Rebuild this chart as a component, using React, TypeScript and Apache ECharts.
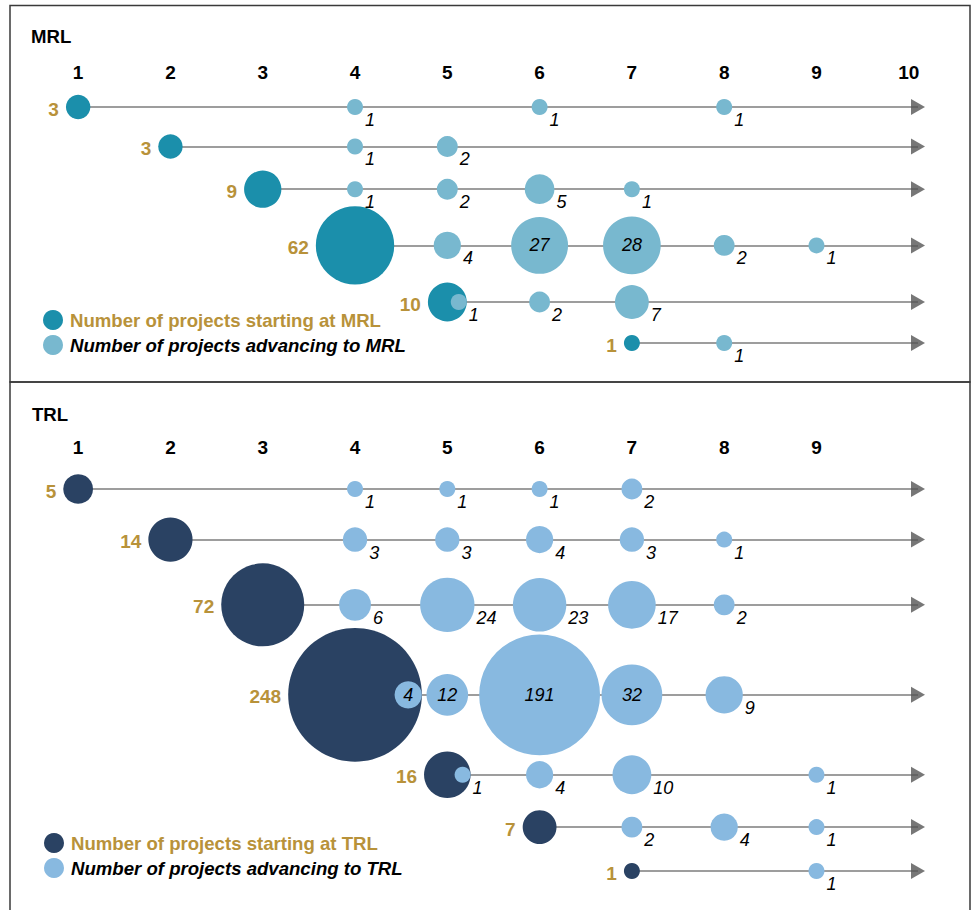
import React, { useEffect, useRef } from "react";
import * as echarts from "echarts";

// ---------------- data ----------------
const MRL_TICKS = [1, 2, 3, 4, 5, 6, 7, 8, 9, 10];
const TRL_TICKS = [1, 2, 3, 4, 5, 6, 7, 8, 9];

const MRL_START_LEVEL = [1, 2, 3, 4, 5, 7];
const MRL_START_COUNT = [3, 3, 9, 62, 10, 1];
// [row index, level advanced to, number of projects]
const MRL_ADVANCING: [number, number, number][] = [
  [0, 4, 1], [0, 6, 1], [0, 8, 1],
  [1, 4, 1], [1, 5, 2],
  [2, 4, 1], [2, 5, 2], [2, 6, 5], [2, 7, 1],
  [3, 5, 4], [3, 6, 27], [3, 7, 28], [3, 8, 2], [3, 9, 1],
  [4, 5, 1], [4, 6, 2], [4, 7, 7],
  [5, 8, 1],
];

const TRL_START_LEVEL = [1, 2, 3, 4, 5, 6, 7];
const TRL_START_COUNT = [5, 14, 72, 248, 16, 7, 1];
const TRL_ADVANCING: [number, number, number][] = [
  [0, 4, 1], [0, 5, 1], [0, 6, 1], [0, 7, 2],
  [1, 4, 3], [1, 5, 3], [1, 6, 4], [1, 7, 3], [1, 8, 1],
  [2, 4, 6], [2, 5, 24], [2, 6, 23], [2, 7, 17], [2, 8, 2],
  [3, 4, 4], [3, 5, 12], [3, 6, 191], [3, 7, 32], [3, 8, 9],
  [4, 5, 1], [4, 6, 4], [4, 7, 10], [4, 9, 1],
  [5, 7, 2], [5, 8, 4], [5, 9, 1],
  [6, 9, 1],
];

// bubbles whose number is written inside ("row-level")
const MRL_INSIDE_LABELS = ["3-6", "3-7"];
const TRL_INSIDE_LABELS = ["3-4", "3-5", "3-6", "3-7"];

// ---------------- style / layout ----------------
const FONT = "'Liberation Sans', Arial, Helvetica, sans-serif";
const GOLD = "#B8923A";
const X_MIN = 0.5;
const X_MAX = 10.1;

const bubble = (v: number) => 16 * Math.pow(v, 0.385);

function rowPositions(startCount: number[], adv: [number, number, number][]) {
  const maxD = startCount.map((c, i) =>
    Math.max(bubble(c), ...adv.filter((a) => a[0] === i).map((a) => bubble(a[2])))
  );
  const ys = [0];
  for (let i = 1; i < startCount.length; i++) {
    ys.push(ys[i - 1] + 30 + 0.55 * ((maxD[i - 1] + maxD[i]) / 2));
  }
  return ys;
}

function panelSeries(
  idx: number,
  tag: string,
  startLevel: number[],
  startCount: number[],
  adv: [number, number, number][],
  inside: string[],
  startColor: string,
  advColor: string
) {
  const ys = rowPositions(startCount, adv);
  const series: any[] = [
    {
      type: "lines",
      coordinateSystem: "cartesian2d",
      xAxisIndex: idx,
      yAxisIndex: idx,
      silent: true,
      z: 1,
      symbol: "none",
      lineStyle: { color: "#9d9d9d", width: 2, opacity: 1 },
      data: ys.map((y, i) => ({ coords: [[startLevel[i], y], [X_MAX, y]] })),
    },
    {
      type: "scatter",
      xAxisIndex: idx,
      yAxisIndex: idx,
      silent: true,
      clip: false,
      z: 2,
      symbol: "triangle",
      symbolRotate: -90,
      symbolSize: [16, 14],
      itemStyle: { color: "#555555" },
      data: ys.map((y) => [X_MAX, y]),
    },
    {
      name: `Number of projects starting at ${tag}`,
      type: "scatter",
      xAxisIndex: idx,
      yAxisIndex: idx,
      clip: false,
      z: 3,
      symbolSize: (val: number[]) => bubble(val[2]),
      itemStyle: { color: startColor, opacity: 1 },
      label: {
        show: true,
        position: "left",
        distance: 7,
        offset: [0, 2],
        formatter: (p: any) => String(p.value[2]),
        color: GOLD,
        fontSize: 19,
        fontWeight: "bold",
        fontFamily: FONT,
      },
      data: ys.map((y, i) => [startLevel[i], y, startCount[i]]),
    },
    {
      name: `Number of projects advancing to ${tag}`,
      type: "scatter",
      xAxisIndex: idx,
      yAxisIndex: idx,
      clip: false,
      z: 4,
      symbolSize: (val: number[]) => bubble(val[2]),
      itemStyle: { color: advColor, opacity: 1 },
      label: {
        show: true,
        position: "right",
        distance: 2,
        offset: [0, 13],
        formatter: (p: any) => String(p.value[2]),
        color: "#000",
        fontSize: 18,
        fontStyle: "italic",
        fontFamily: FONT,
      },
      data: adv.map(([r, lvl, n]) => {
        const same = lvl === startLevel[r];
        const item: any = {
          value: [lvl, ys[r], n],
          symbolOffset: same ? [(bubble(startCount[r]) - bubble(n)) / 2, 0] : [0, 0],
        };
        if (inside.includes(`${r}-${lvl}`)) {
          item.label = { position: "inside", offset: [0, 0], distance: 0 };
        }
        return item;
      }),
    },
  ];
  return { series, maxY: ys[ys.length - 1] };
}

function xAxis(idx: number, ticks: number[], margin: number) {
  return {
    gridIndex: idx,
    type: "value",
    position: "top",
    min: X_MIN,
    max: X_MAX,
    axisLine: { show: false },
    axisTick: { show: false },
    splitLine: { show: false },
    axisLabel: {
      customValues: ticks,
      margin,
      color: "#000",
      fontSize: 19,
      fontWeight: "bold",
      fontFamily: FONT,
    },
  };
}

function legend(tag: string, left: number, top: number) {
  return {
    left,
    top,
    orient: "vertical",
    padding: 0,
    itemWidth: 20,
    itemHeight: 20,
    itemGap: 5,
    icon: "circle",
    selectedMode: false,
    data: [
      {
        name: `Number of projects starting at ${tag}`,
        textStyle: { color: GOLD, fontWeight: "bold", fontSize: 18.6, fontFamily: FONT, padding: [0, 0, 0, 2] },
      },
      {
        name: `Number of projects advancing to ${tag}`,
        textStyle: {
          color: "#000",
          fontWeight: "bold",
          fontStyle: "italic",
          fontSize: 18.6,
          fontFamily: FONT,
          padding: [0, 0, 0, 2],
        },
      },
    ],
  };
}

export default function App() {
  const ref = useRef<HTMLDivElement>(null);

  useEffect(() => {
    if (!ref.current) return;
    const chart = echarts.init(ref.current, undefined, { renderer: "svg" });

    const mrl = panelSeries(0, "MRL", MRL_START_LEVEL, MRL_START_COUNT, MRL_ADVANCING,
      MRL_INSIDE_LABELS, "#1B8FAB", "#78B8CF");
    const trl = panelSeries(1, "TRL", TRL_START_LEVEL, TRL_START_COUNT, TRL_ADVANCING,
      TRL_INSIDE_LABELS, "#2A4263", "#88B9E0");

    chart.setOption({
      animation: false,
      backgroundColor: "#ffffff",
      title: [
        {
          text: "MRL",
          left: 31,
          top: 27,
          padding: 0,
          textStyle: { fontSize: 18.6, fontWeight: "bold", color: "#000", fontFamily: FONT, lineHeight: 18 },
        },
        {
          text: "TRL",
          left: 32,
          top: 405,
          padding: 0,
          textStyle: { fontSize: 18.6, fontWeight: "bold", color: "#000", fontFamily: FONT, lineHeight: 18 },
        },
      ],
      legend: [legend("MRL", 43, 310), legend("TRL", 44, 833)],
      grid: [
        { left: 32, top: 107, width: 886, height: 236 },
        { left: 32, top: 489, width: 886, height: 382 },
      ],
      xAxis: [xAxis(0, MRL_TICKS, 25), xAxis(1, TRL_TICKS, 32)],
      yAxis: [
        { gridIndex: 0, type: "value", inverse: true, min: 0, max: mrl.maxY, show: false },
        { gridIndex: 1, type: "value", inverse: true, min: 0, max: trl.maxY, show: false },
      ],
      graphic: [
        {
          type: "rect",
          silent: true,
          shape: { x: 10, y: 5.5, width: 960, height: 376.5 },
          style: { fill: "none", stroke: "#3a3a3a", lineWidth: 1.5 },
        },
        {
          type: "rect",
          silent: true,
          shape: { x: 10, y: 382, width: 960, height: 600 },
          style: { fill: "none", stroke: "#3a3a3a", lineWidth: 1.5 },
        },
      ],
      series: [...mrl.series, ...trl.series],
    });

    return () => chart.dispose();
  }, []);

  return (
    <div
      ref={ref}
      style={{ position: "fixed", left: 0, top: 0, width: 975, height: 910, background: "#fff" }}
    />
  );
}
